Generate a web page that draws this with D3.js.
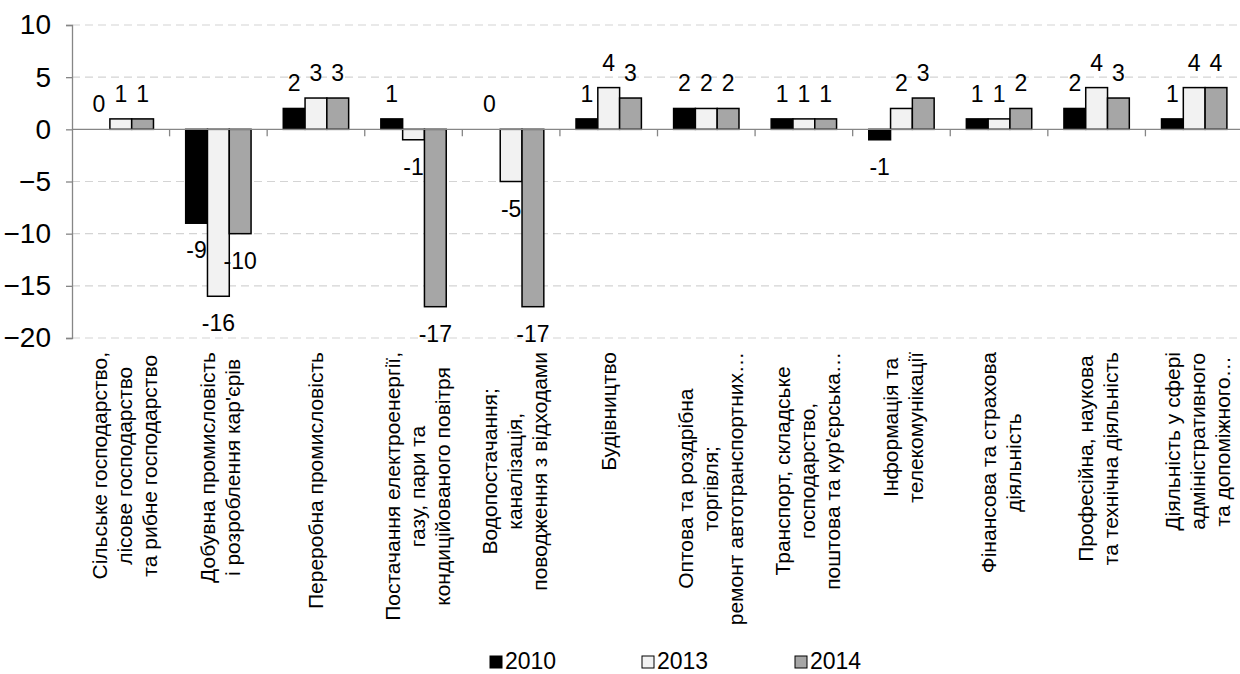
<!DOCTYPE html>
<html>
<head>
<meta charset="utf-8">
<script src="https://cdn.jsdelivr.net/npm/d3@7"></script>
<style>
  body { margin: 0; background: #fff; }
  svg { display: block; font-family: "Liberation Sans", Arial, sans-serif; }
</style>
</head>
<body>
<svg id="chart" width="1240" height="674"></svg>
<script>
// categories (line breaks as in the original axis labels)
var categories = [
  "Сільське господарство,\nлісове господарство\nта рибне господарство",
  "Добувна промисловість\nі розроблення кар'єрів",
  "Переробна промисловість",
  "Постачання електроенергії,\nгазу, пари та\nкондиційованого повітря",
  "Водопостачання;\nканалізація,\nповодження з відходами",
  "Будівництво",
  "Оптова та роздрібна\nторгівля;\nремонт автотранспортних…",
  "Транспорт, складське\nгосподарство,\nпоштова та кур'єрська…",
  "Інформація та\nтелекомунікації",
  "Фінансова та страхова\nдіяльність",
  "Професійна, наукова\nта технічна діяльність",
  "Діяльність у сфері\nадміністративного\nта допоміжного…"
]
var years = ["2010", "2013", "2014"]
var values2010 = [0, -9, 2, 1, 0, 1, 2, 1, -1, 1, 2, 1]
var values2013 = [1, -16, 3, -1, -5, 4, 2, 1, 2, 1, 4, 4]
var values2014 = [1, -10, 3, -17, -17, 3, 2, 1, 3, 2, 3, 4]
var yTicks = [-20, -15, -10, -5, 0, 5, 10]

var colors = { "2010": "#000000", "2013": "#f2f2f2", "2014": "#a6a6a6" }
var series = { "2010": values2010, "2013": values2013, "2014": values2014 }

var plotLeft = 72, plotRight = 1243, plotTop = 25, plotBottom = 338
var svg = d3.select("#chart")

var x0 = d3.scaleBand()
  .domain(d3.range(categories.length))
  .range([plotLeft, plotRight])
var bw = x0.bandwidth()
var x1 = d3.scaleBand()
  .domain(years)
  .range([bw * 0.165, bw * 0.835])
var y = d3.scaleLinear()
  .domain([-20, 10])
  .range([plotBottom, plotTop])

// gridlines
svg.append("g")
  .selectAll("line")
  .data(yTicks.filter(function(d) { return d !== 0 }))
  .enter()
  .append("line")
  .attr("x1", plotLeft)
  .attr("x2", plotRight)
  .attr("y1", function(d) { return y(d) })
  .attr("y2", function(d) { return y(d) })
  .attr("stroke", "#d4d4d4")
  .attr("stroke-width", 1.2)
  .attr("stroke-dasharray", "8,5")

// y axis
var yAxis = svg.append("g")
  .attr("transform", "translate(" + plotLeft + ",0)")
  .call(d3.axisLeft(y).tickValues(yTicks).tickSize(6).tickPadding(15))
yAxis.select(".domain").attr("stroke", "#868686").attr("stroke-width", 1.3)
yAxis.selectAll(".tick line").attr("stroke", "#868686").attr("stroke-width", 1.3)
yAxis.selectAll(".tick text")
  .attr("font-size", "28px")
  .attr("fill", "#000")
  .attr("font-family", "Liberation Sans, Arial, sans-serif")

// bars
var groups = svg.append("g")
  .selectAll("g")
  .data(categories)
  .enter()
  .append("g")
  .attr("transform", function(d, i) { return "translate(" + x0(i) + ",0)" })

groups.each(function(c, i) {
  var g = d3.select(this)
  years.forEach(function(yr) {
    var v = series[yr][i]
    if (v !== 0) {
      g.append("rect")
        .attr("x", x1(yr))
        .attr("y", y(Math.max(0, v)))
        .attr("width", x1.bandwidth())
        .attr("height", Math.abs(y(v) - y(0)))
        .attr("fill", colors[yr])
        .attr("stroke", "#000")
        .attr("stroke-width", 1.5)
    }
    g.append("text")
      .attr("x", x1(yr) + x1.bandwidth() / 2)
      .attr("y", v < 0 ? y(v) + 35 : y(v) - 17)
      .attr("text-anchor", "middle")
      .attr("font-size", "23px")
      .attr("fill", "#000")
      .text(v)
  })
})

// x axis line at zero + category ticks
svg.append("line")
  .attr("x1", plotLeft)
  .attr("x2", plotRight)
  .attr("y1", y(0))
  .attr("y2", y(0))
  .attr("stroke", "#868686")
  .attr("stroke-width", 1.3)
svg.append("g")
  .selectAll("line")
  .data(d3.range(1, categories.length + 1))
  .enter()
  .append("line")
  .attr("x1", function(i) { return plotLeft + i * bw })
  .attr("x2", function(i) { return plotLeft + i * bw })
  .attr("y1", y(0))
  .attr("y2", y(0) + 7)
  .attr("stroke", "#868686")
  .attr("stroke-width", 1.3)

// category labels, rotated, each block hangs from the same top edge
var labelTop = 352
var lineGap = 25
var catFont = 21
categories.forEach(function(c, i) {
  var lines = c.split("\n")
  var n = lines.length
  var shift = 1 + (n - 1) * 2.2
  var lab = svg.append("g")
  var texts = lines.map(function(t, k) {
    var cx = x0(i) + bw / 2 + shift + (k - (n - 1) / 2) * lineGap + catFont * 0.28
    return lab.append("text")
      .attr("text-anchor", "middle")
      .attr("font-size", catFont + "px")
      .attr("fill", "#000")
      .attr("data-x", cx)
      .text(t)
  })
  var maxLen = d3.max(texts, function(t) { return t.node().getComputedTextLength() })
  texts.forEach(function(t) {
    t.attr("transform", "translate(" + t.attr("data-x") + "," + (labelTop + maxLen / 2) + ") rotate(-90)")
  })
})

// legend
var legendX = [490, 642, 795]
var legend = svg.append("g")
years.forEach(function(yr, k) {
  legend.append("rect")
    .attr("x", legendX[k])
    .attr("y", 656)
    .attr("width", 12)
    .attr("height", 12)
    .attr("fill", colors[yr])
    .attr("stroke", "#000")
    .attr("stroke-width", 1)
  legend.append("text")
    .attr("x", legendX[k] + 15)
    .attr("y", 669)
    .attr("font-size", "23px")
    .attr("fill", "#000")
    .text(yr)
})
</script>
</body>
</html>
